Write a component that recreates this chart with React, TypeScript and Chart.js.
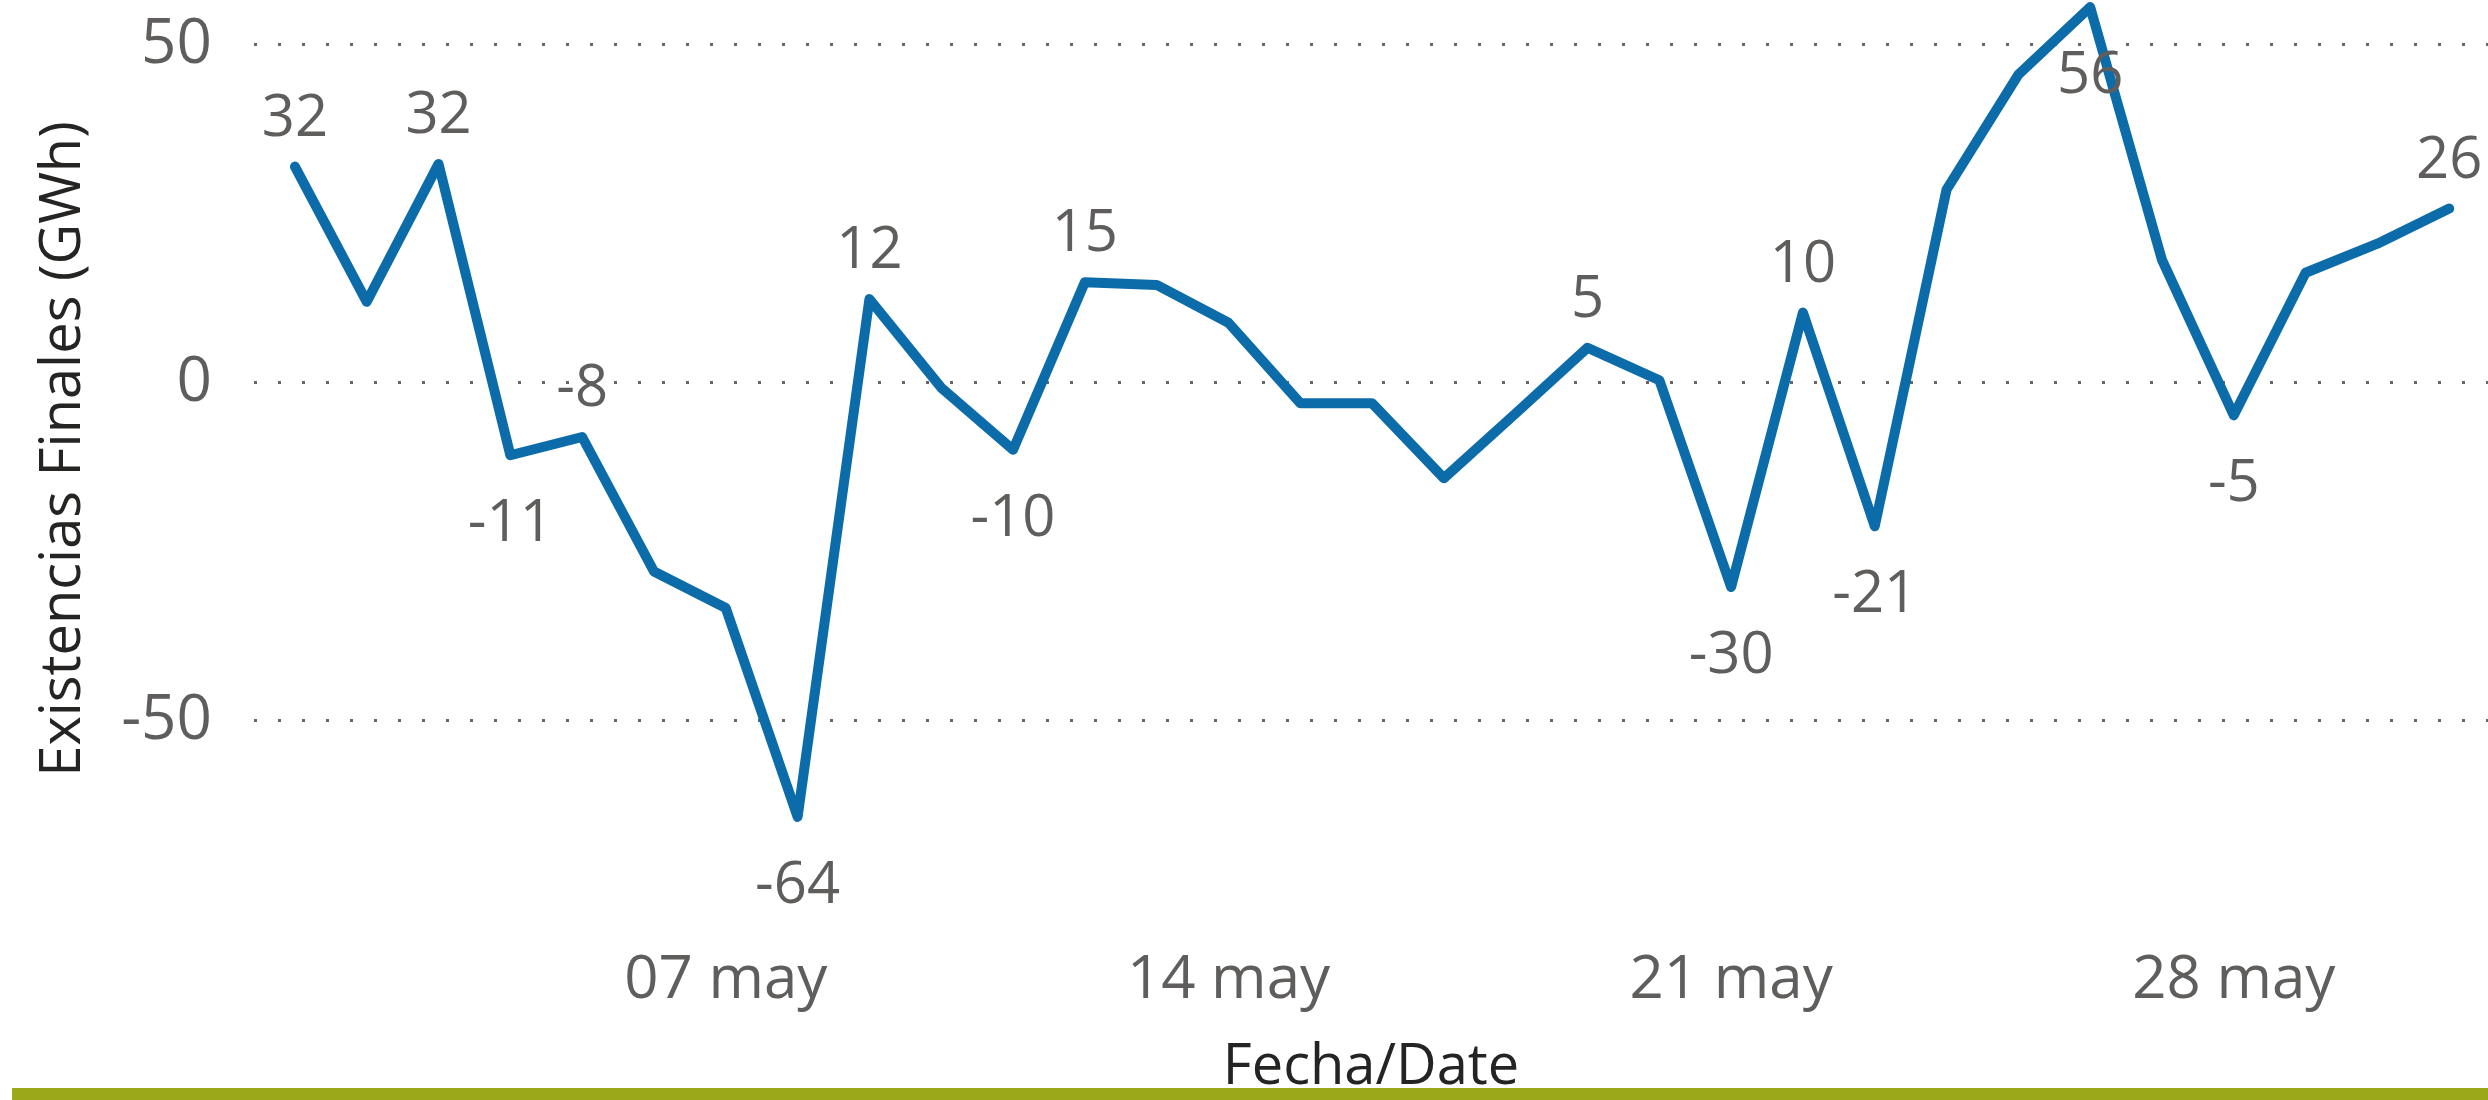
import React, { useEffect, useRef } from "react";
import { Chart, registerables } from "chart.js";

Chart.register(...registerables);

// Day of May for each point
const days = [1, 2, 3, 4, 5, 6, 7, 8, 9, 10, 11, 12, 13, 14, 15, 16, 17, 18, 19, 20, 21, 22, 23, 24, 25, 26, 27, 28, 29, 30, 31];
// Existencias Finales (GWh)
const stock = [32.0, 12.0, 32.4, -10.7, -8.0, -27.9, -33.3, -64.2, 12.4, -0.7, -9.9, 14.9, 14.5, 8.9, -3.0, -3.0, -14.1, -4.5, 5.2, 0.4, -30.2, 10.4, -21.2, 28.6, 45.6, 55.6, 18.2, -4.8, 16.3, 20.6, 25.8];
// Days whose value is written on the chart
const labeledDays = [1, 3, 4, 5, 8, 9, 11, 12, 19, 21, 22, 23, 26, 28, 31];
// X axis ticks
const xTickDays = [7, 14, 21, 28];
const xTickLabels = ["07 may", "14 may", "21 may", "28 may"];
// Y axis ticks
const yTicks = [-50, 0, 50];

const FONT = '"Open Sans", "Noto Sans", sans-serif';
const LABEL_COLOR = "#605e5c";
const TITLE_COLOR = "#252423";

const pointLabelPlugin = {
  id: "pointLabels",
  afterDatasetsDraw(chart: any) {
    const meta = chart.getDatasetMeta(0);
    const ctx = chart.ctx;
    ctx.save();
    ctx.font = `58px ${FONT}`;
    ctx.fillStyle = LABEL_COLOR;
    ctx.textAlign = "center";
    ctx.textBaseline = "alphabetic";
    labeledDays.forEach((d) => {
      const i = days.indexOf(d);
      if (i < 0) return;
      const el = meta.data[i];
      const v = stock[i];
      const neigh: number[] = [];
      if (i > 0) neigh.push(stock[i - 1]);
      if (i < stock.length - 1) neigh.push(stock[i + 1]);
      let above = neigh.every((n) => v >= n);
      if (above && el.y - 31 - 44 < chart.chartArea.top) above = false;
      const y = above ? el.y - 31 : el.y + 86;
      ctx.fillText(String(Math.round(v)), el.x, y);
    });
    ctx.restore();
  },
};

export default function App() {
  const canvasRef = useRef<HTMLCanvasElement | null>(null);

  useEffect(() => {
    const canvas = canvasRef.current;
    if (!canvas) return;
    const chart = new Chart(canvas, {
      type: "line",
      data: {
        labels: days,
        datasets: [
          {
            data: days.map((d, i) => ({ x: d, y: stock[i] })),
            borderColor: "#0c6ca9",
            backgroundColor: "#0c6ca9",
            borderWidth: 10,
            borderJoinStyle: "round",
            borderCapStyle: "round",
            pointRadius: 0,
            tension: 0,
            clip: false as any,
          },
        ],
      },
      options: {
        responsive: false,
        animation: false,
        devicePixelRatio: 1,
        layout: { padding: 0 },
        plugins: {
          legend: { display: false },
          tooltip: { enabled: false },
        },
        scales: {
          x: {
            type: "linear",
            min: 0.43,
            max: 31.54,
            grid: { display: false, drawTicks: false },
            border: { display: false },
            afterBuildTicks: (scale: any) => {
              scale.ticks = xTickDays.map((v) => ({ value: v }));
            },
            afterFit: (scale: any) => {
              scale.height = 202;
              scale.paddingLeft = 0;
              scale.paddingRight = 0;
            },
            ticks: {
              autoSkip: false,
              maxRotation: 0,
              padding: 47,
              color: LABEL_COLOR,
              font: { family: FONT, size: 60 },
              callback: (_v: any, idx: number) => xTickLabels[idx],
            },
            title: {
              display: true,
              text: "Fecha/Date",
              color: TITLE_COLOR,
              font: { family: FONT, size: 56, lineHeight: 1.14 },
              padding: { top: 0, bottom: 0 },
            },
          },
          y: {
            type: "linear",
            min: -76.2,
            max: 56.65,
            grid: {
              display: true,
              drawTicks: false,
              color: "#666666",
              lineWidth: 3,
            },
            border: { display: false, dash: [3, 21] },
            afterBuildTicks: (scale: any) => {
              scale.ticks = yTicks.map((v) => ({ value: v }));
            },
            afterFit: (scale: any) => {
              scale.width = 254;
              scale.paddingTop = 0;
              scale.paddingBottom = 0;
            },
            ticks: {
              padding: 42,
              color: LABEL_COLOR,
              font: { family: FONT, size: 62 },
              callback: (v: any) => String(v),
            },
            title: {
              display: true,
              text: "Existencias Finales (GWh)",
              color: TITLE_COLOR,
              font: { family: FONT, size: 56, lineHeight: 1.2 },
              padding: { top: 30, bottom: 0 },
            },
          },
        },
      },
      plugins: [pointLabelPlugin],
    } as any);
    return () => chart.destroy();
  }, []);

  return (
    <div
      style={{
        position: "fixed",
        left: 0,
        top: 0,
        width: 2488,
        height: 1100,
        background: "#ffffff",
        overflow: "hidden",
      }}
    >
      <canvas ref={canvasRef} width={2488} height={1100} style={{ display: "block", width: 2488, height: 1100 }} />
      <div
        style={{
          position: "absolute",
          left: 12,
          top: 1088,
          width: 2476,
          height: 12,
          background: "#9aa81a",
        }}
      />
    </div>
  );
}
